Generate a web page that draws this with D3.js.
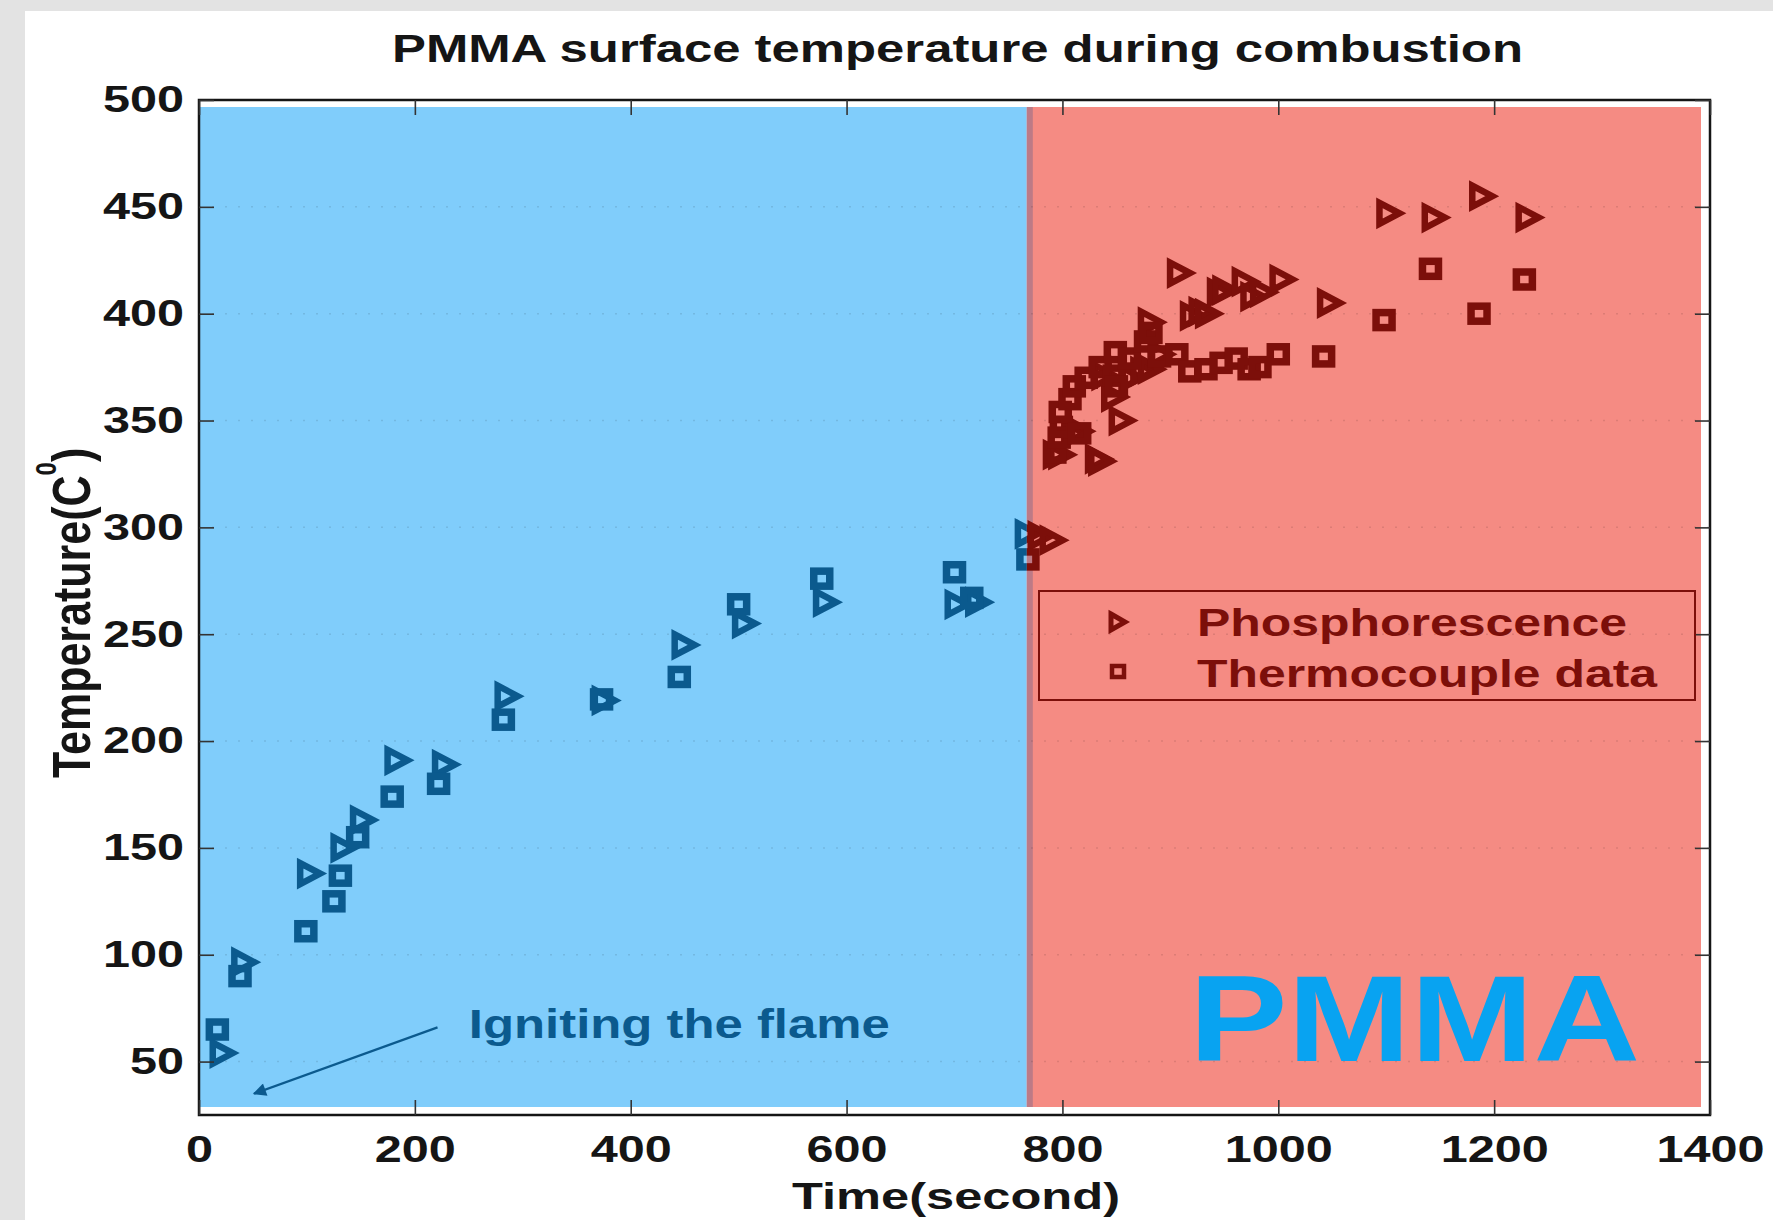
<!DOCTYPE html>
<html>
<head>
<meta charset="utf-8">
<script src="https://cdn.jsdelivr.net/npm/d3@7"></script>
<style>
  html, body { margin: 0; padding: 0; background: #e3e3e3; }
  svg { display: block; }
</style>
</head>
<body>
<script>
// ---- data -------------------------------------------------------------
const xTicks = [0, 200, 400, 600, 800, 1000, 1200, 1400];
const yTicks = [50, 100, 150, 200, 250, 300, 350, 400, 450, 500];

// [time (s), temperature (C)]
const phosphorescence = [
  [22, 54], [42, 96.5], [103, 138], [134, 150], [152, 163], [184, 191], [228, 189],
  [286, 221], [376, 219], [450, 245], [506, 255], [581, 265], [703, 264], [722, 265],
  [768, 297], [780, 296], [791, 294],
  [794, 334], [799, 334], [811, 344], [816, 345], [833, 332], [836, 331], [855, 350],
  [848, 361], [864, 370], [839, 371], [875, 373], [882, 374], [891, 381], [882, 396],
  [921, 399], [929, 401], [935, 400], [946, 410], [951, 411], [969, 415], [977, 408],
  [986, 410], [1004, 416], [909, 419], [1048, 405], [1103, 447], [1145, 445],
  [1189, 455], [1232, 445]
];

const thermocouple = [
  [17, 65], [38, 90], [99, 111], [125, 125], [131, 137], [147, 155], [179, 174],
  [222, 180], [282, 210], [373, 219.5], [445, 230], [500, 264], [577, 276], [700, 279],
  [716, 267], [768, 285],
  [793, 335], [797, 342], [799, 347], [798, 354], [807, 360], [811, 366], [816, 344],
  [822, 370], [835, 375], [848, 371], [850, 366], [849, 382], [862, 379], [877, 387],
  [882, 391], [890, 380], [906, 381], [918, 373], [933, 374], [947, 377], [961, 379],
  [973, 374], [983, 375], [1000, 381], [1042, 380], [1098, 397], [1141, 421],
  [1186, 400], [1228, 416]
];

const flameTime = 767;          // boundary between heating and burning phases
const seriesNames = ["Phosphorescence", "Thermocouple data"];
const noteText = "Igniting the flame";
const noteAnchor = [250, 61];   // text start, data units
const arrowFrom = [221, 66];
const arrowTo = [51, 35];

// ---- layout -----------------------------------------------------------
const W = 1773, H = 1220;
const M = { left: 199, right: 1710, top: 100, bottom: 1115 };
const FONT = "'Liberation Sans', Arial, sans-serif";
const INK = "#151515";
const BLUE_MARK = "#0b5a8e", RED_MARK = "#7c0f0a";
const BLUE_FILL = "#80cdfb", RED_FILL = "#f58b83";
const CHAR_W = 27;              // wide bitmap-like tick digits

const x = d3.scaleLinear().domain([0, 1400]).range([M.left, M.right]);
const y = d3.scaleLinear().domain([25, 500]).range([M.bottom, M.top]);

const svg = d3.select("body").append("svg")
  .attr("width", W).attr("height", H);

// page background
svg.append("rect").attr("width", W).attr("height", H).attr("fill", "#e3e3e3");
svg.append("rect").attr("x", 25).attr("y", 11).attr("width", W - 25).attr("height", H - 11)
  .attr("fill", "#ffffff");

// phase shading
const fill = { top: M.top + 7, bottom: M.bottom - 8, right: M.right - 9 };
const xb = x(flameTime);
svg.append("rect").attr("x", M.left).attr("y", fill.top)
  .attr("width", xb - M.left).attr("height", fill.bottom - fill.top).attr("fill", BLUE_FILL);
svg.append("rect").attr("x", xb).attr("y", fill.top)
  .attr("width", fill.right - xb).attr("height", fill.bottom - fill.top).attr("fill", RED_FILL);
svg.append("rect").attr("x", xb).attr("y", fill.top)
  .attr("width", 6).attr("height", fill.bottom - fill.top).attr("fill", "#bd7a86");

// faint dotted grid
svg.append("g").selectAll("line").data(yTicks).join("line")
  .attr("x1", M.left).attr("x2", M.right)
  .attr("y1", d => y(d)).attr("y2", d => y(d))
  .attr("stroke", "rgba(0,0,0,0.10)").attr("stroke-width", 1.5)
  .attr("stroke-dasharray", "2,11");

// clip paths for the two phases
const defs = svg.append("defs");
defs.append("clipPath").attr("id", "clipBlue").append("rect")
  .attr("x", M.left).attr("y", M.top).attr("width", xb - M.left).attr("height", M.bottom - M.top);
defs.append("clipPath").attr("id", "clipRed").append("rect")
  .attr("x", xb).attr("y", M.top).attr("width", M.right - xb).attr("height", M.bottom - M.top);

// markers
const triPath = (w, h) => `M${-w / 2},${-h / 2}L${w / 2},0L${-w / 2},${h / 2}Z`;

function drawMarkers(g, color) {
  g.selectAll("path.tri").data(phosphorescence).join("path").attr("class", "tri")
    .attr("d", triPath(20, 21))
    .attr("transform", d => `translate(${x(d[0])},${y(d[1])})`)
    .attr("fill", "none").attr("stroke", color).attr("stroke-width", 6.5)
    .attr("stroke-linejoin", "miter").attr("stroke-miterlimit", 10);
  g.selectAll("rect.sq").data(thermocouple).join("rect").attr("class", "sq")
    .attr("x", d => x(d[0]) - 8).attr("y", d => y(d[1]) - 7.5)
    .attr("width", 16).attr("height", 15)
    .attr("fill", "none").attr("stroke", color).attr("stroke-width", 7.5);
}
drawMarkers(svg.append("g").attr("clip-path", "url(#clipBlue)"), BLUE_MARK);
drawMarkers(svg.append("g").attr("clip-path", "url(#clipRed)"), RED_MARK);

// frame + axes
svg.append("rect").attr("x", M.left).attr("y", M.top)
  .attr("width", M.right - M.left).attr("height", M.bottom - M.top)
  .attr("fill", "none").attr("stroke", INK).attr("stroke-width", 2.5);

function styleAxis(g) {
  g.select(".domain").remove();
  g.selectAll(".tick line").attr("stroke", "#333").attr("stroke-width", 1.6);
  g.selectAll(".tick text").attr("fill", INK)
    .style("font-family", FONT).style("font-weight", "bold").style("font-size", "37px")
    .attr("textLength", function () { return this.textContent.length * CHAR_W; })
    .attr("lengthAdjust", "spacingAndGlyphs");
}

svg.append("g").attr("transform", `translate(0,${M.bottom})`)
  .call(d3.axisBottom(x).tickValues(xTicks).tickSize(-15).tickPadding(21).tickFormat(d3.format("d")))
  .call(styleAxis);
svg.append("g").attr("transform", `translate(0,${M.top})`)
  .call(d3.axisTop(x).tickValues(xTicks).tickSize(-15).tickFormat(""))
  .call(styleAxis);
svg.append("g").attr("transform", `translate(${M.left},0)`)
  .call(d3.axisLeft(y).tickValues(yTicks).tickSize(-15).tickPadding(15).tickFormat(d3.format("d")))
  .call(styleAxis);
svg.append("g").attr("transform", `translate(${M.right},0)`)
  .call(d3.axisRight(y).tickValues(yTicks).tickSize(-15).tickFormat(""))
  .call(styleAxis);

// title and axis titles
svg.append("text").attr("x", 392).attr("y", 62)
  .attr("textLength", 1131).attr("lengthAdjust", "spacingAndGlyphs")
  .style("font-family", FONT).style("font-weight", "bold").style("font-size", "38px")
  .attr("fill", INK).text("PMMA surface temperature during combustion");

svg.append("text").attr("x", 792).attr("y", 1209)
  .attr("textLength", 328).attr("lengthAdjust", "spacingAndGlyphs")
  .style("font-family", FONT).style("font-weight", "bold").style("font-size", "36px")
  .attr("fill", INK).text("Time(second)");

const yTitle = svg.append("text")
  .attr("transform", "translate(90,778) scale(1.25,1) rotate(-90)")
  .style("font-family", FONT).style("font-weight", "bold").style("font-size", "43px")
  .attr("fill", INK);
yTitle.append("tspan").text("Temperature(C");
yTitle.append("tspan").attr("dy", -27).style("font-size", "24px").text("0");
yTitle.append("tspan").attr("dy", 27).text(")");

// annotation
svg.append("text").attr("x", x(noteAnchor[0])).attr("y", y(noteAnchor[1]))
  .attr("textLength", 421).attr("lengthAdjust", "spacingAndGlyphs")
  .style("font-family", FONT).style("font-weight", "bold").style("font-size", "41px")
  .attr("fill", BLUE_MARK).text(noteText);

defs.append("marker").attr("id", "arrowHead").attr("viewBox", "0 0 10 10")
  .attr("refX", 9).attr("refY", 5).attr("markerWidth", 10).attr("markerHeight", 6)
  .attr("markerUnits", "strokeWidth").attr("orient", "auto")
  .append("path").attr("d", "M0,0L10,5L0,10Z").attr("fill", BLUE_MARK);
svg.append("line")
  .attr("x1", x(arrowFrom[0])).attr("y1", y(arrowFrom[1]))
  .attr("x2", x(arrowTo[0])).attr("y2", y(arrowTo[1]))
  .attr("stroke", BLUE_MARK).attr("stroke-width", 2.2)
  .attr("marker-end", "url(#arrowHead)");

// big label
svg.append("text").attr("x", 1189).attr("y", 1061)
  .attr("textLength", 451).attr("lengthAdjust", "spacingAndGlyphs")
  .style("font-family", FONT).style("font-weight", "900").style("font-size", "123px")
  .attr("fill", "#08a3f1").text("PMMA");

// legend
const lg = svg.append("g");
lg.append("rect").attr("x", 1039).attr("y", 591).attr("width", 656).attr("height", 109)
  .attr("fill", "none").attr("stroke", RED_MARK).attr("stroke-width", 2);
lg.append("path").attr("d", triPath(14, 16))
  .attr("transform", "translate(1118,622)")
  .attr("fill", "none").attr("stroke", RED_MARK).attr("stroke-width", 5);
lg.append("rect").attr("x", 1112).attr("y", 666).attr("width", 12).attr("height", 11)
  .attr("fill", "none").attr("stroke", RED_MARK).attr("stroke-width", 4.5);
lg.selectAll("text.lab").data(seriesNames).join("text").attr("class", "lab")
  .attr("x", 1197).attr("y", (d, i) => 636 + i * 51)
  .attr("textLength", (d, i) => [430, 460][i]).attr("lengthAdjust", "spacingAndGlyphs")
  .style("font-family", FONT).style("font-weight", "bold").style("font-size", "39px")
  .attr("fill", RED_MARK).text(d => d);
</script>
</body>
</html>
